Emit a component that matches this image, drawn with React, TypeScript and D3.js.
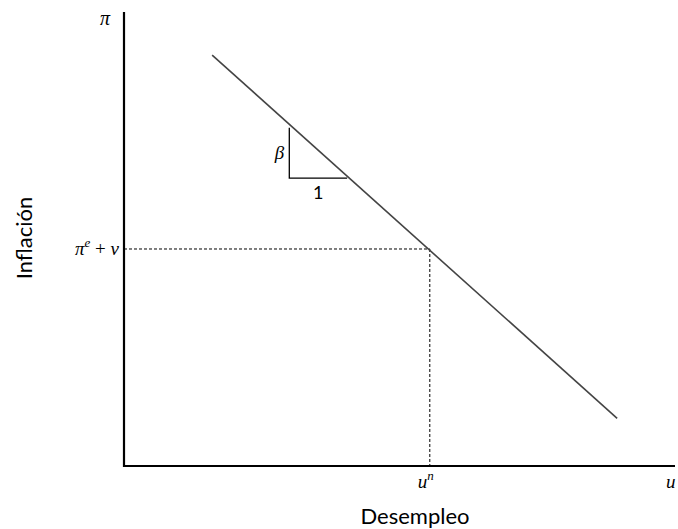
import * as d3 from "d3";

const W = 678;
const H = 529;

// curva de Phillips (unidades arbitrarias)
const curveU = [1.6, 8.95];
const curvePi = [9.05, 1.05];
const uNatural = 5.55;
const piExpected = 4.78;
// triángulo de pendiente
const triU = [3.0, 4.05];
const triPi = [7.45, 6.34];

const MARGIN = { top: 12, right: 3, bottom: 63, left: 124 };

export default function App() {
  const xScale = d3.scaleLinear().domain([0, 10]).range([MARGIN.left, W - MARGIN.right]);
  const yScale = d3.scaleLinear().domain([0, 10]).range([H - MARGIN.bottom, MARGIN.top]);

  const pts: [number, number][] = curveU.map((u, i) => [u, curvePi[i]]);
  const line = d3
    .line<[number, number]>()
    .x((d) => xScale(d[0]))
    .y((d) => yScale(d[1]));

  const x0 = xScale(0);
  const y0 = yScale(0);
  const mathFont = "'Liberation Serif', serif";
  const labelFont = "Lato, 'Open Sans', sans-serif";

  return (
    <svg width={W} height={H} style={{ position: "absolute", left: 0, top: 0 }}>
      <rect width={W} height={H} fill="#fff" />
      {/* ejes */}
      <line x1={x0} y1={yScale(10)} x2={x0} y2={y0 + 1} stroke="#000" strokeWidth={2.2} />
      <line x1={x0 - 1} y1={y0} x2={xScale(10)} y2={y0} stroke="#000" strokeWidth={2.2} />
      {/* líneas punteadas */}
      <line
        x1={x0}
        y1={yScale(piExpected)}
        x2={xScale(uNatural)}
        y2={yScale(piExpected)}
        stroke="#000"
        strokeWidth={1}
        strokeDasharray="3,2"
      />
      <line
        x1={xScale(uNatural)}
        y1={yScale(piExpected)}
        x2={xScale(uNatural)}
        y2={y0}
        stroke="#000"
        strokeWidth={1}
        strokeDasharray="3,2"
      />
      {/* curva */}
      <path d={line(pts) || ""} stroke="#444" strokeWidth={1.6} fill="none" />
      {/* triángulo */}
      <path
        d={`M${xScale(triU[0])},${yScale(triPi[0])}V${yScale(triPi[1])}H${xScale(triU[1])}`}
        stroke="#000"
        strokeWidth={1.3}
        fill="none"
      />
      <text x={xScale(triU[0]) - 5} y={yScale((triPi[0] + triPi[1]) / 2) + 6} fontFamily={mathFont} fontStyle="italic" fontSize={19} textAnchor="end">
        β
      </text>
      <text x={(xScale(triU[0]) + xScale(triU[1])) / 2} y={yScale(triPi[1]) + 21} fontFamily={labelFont} fontSize={18} textAnchor="middle">
        1
      </text>
      {/* etiquetas matemáticas */}
      <text x={x0 - 14} y={25} fontFamily={mathFont} fontStyle="italic" fontSize={20} textAnchor="end">
        π
      </text>
      <text x={x0 - 5} y={yScale(piExpected) + 6} fontFamily={mathFont} fontStyle="italic" fontSize={19} textAnchor="end">
        π<tspan dy={-8} fontSize={13}>e</tspan>
        <tspan dy={8} fontStyle="normal"> + </tspan>v
      </text>
      <text x={xScale(uNatural) - 4} y={y0 + 22} fontFamily={mathFont} fontStyle="italic" fontSize={19} textAnchor="middle">
        u<tspan dy={-8} fontSize={13}>n</tspan>
      </text>
      <text x={W - 12} y={y0 + 22} fontFamily={mathFont} fontStyle="italic" fontSize={19}>
        u
      </text>
      {/* títulos */}
      <text x={415} y={524} fontFamily={labelFont} fontSize={22} textAnchor="middle">
        Desempleo
      </text>
      <text transform={`translate(32,238) rotate(-90)`} fontFamily={labelFont} fontSize={22} textAnchor="middle">
        Inflación
      </text>
    </svg>
  );
}
